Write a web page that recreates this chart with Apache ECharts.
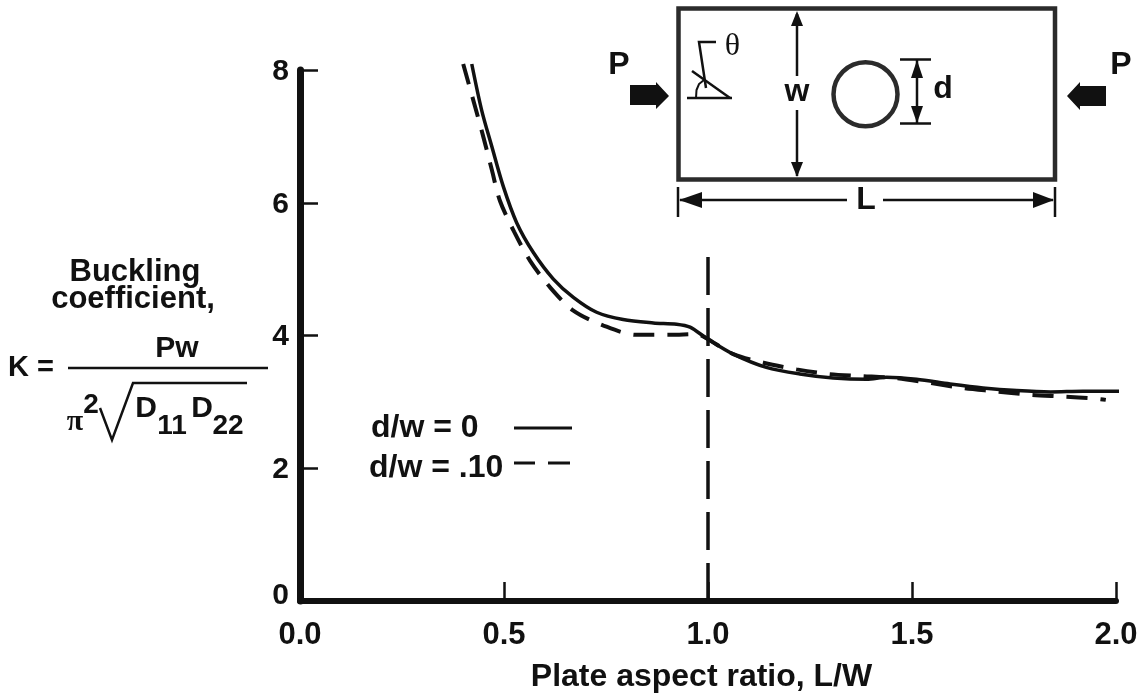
<!DOCTYPE html>
<html><head><meta charset="utf-8">
<style>html,body{margin:0;padding:0;background:#fff}#c{width:1146px;height:698px}</style>
<script src="https://cdn.jsdelivr.net/npm/echarts@6/dist/echarts.min.js"></script>
</head><body><div id="c"></div>
<script>
const xTicks = [0, 0.5, 1, 1.5, 2];
const yTicks = [0, 2, 4, 6, 8];
const solidX = [0.421,0.445,0.470,0.498,0.531,0.572,0.621,0.670,0.727,0.792,0.866,0.923,0.956,0.996,1.062,1.143,1.225,1.307,1.389,1.438,1.511,1.593,1.674,1.757,1.839,1.919,2.017];
const solidY = [8.09,7.40,6.85,6.25,5.70,5.25,4.85,4.575,4.35,4.24,4.19,4.17,4.125,3.96,3.72,3.52,3.42,3.36,3.34,3.37,3.34,3.27,3.21,3.17,3.15,3.16,3.16];
const dashX = [0.400,0.429,0.449,0.470,0.490,0.525,0.564,0.613,0.670,0.744,0.825,0.907,0.972,0.996,1.062,1.136,1.217,1.295,1.375,1.456,1.539,1.622,1.703,1.785,1.867,1.949,1.975];
const dashY = [8.09,7.45,7.0,6.5,6.03,5.56,5.125,4.725,4.375,4.15,4.01,4.01,4.02,3.96,3.72,3.59,3.49,3.42,3.39,3.36,3.29,3.21,3.16,3.11,3.08,3.05,3.03];
const refX = [1, 1];
const refY = [0, 5.2];
const zip = (a, b) => a.map((v, i) => [v, b[i]]);

const INK = '#111';
const EDGE = '#2b2b2b';
const SANS = '"Liberation Sans", Arial, sans-serif';
const SERIF = '"Liberation Serif", serif';
const t = (text, x, y, size, extra) => ({
  type: 'text', x, y, silent: true,
  style: Object.assign({text, fill: INK, font: `bold ${size}px ${SANS}`, align: 'center', verticalAlign: 'middle'}, extra || {})
});
const ln = (pts, w, color) => ({
  type: 'polyline', silent: true,
  shape: {points: pts},
  style: {stroke: color || INK, lineWidth: w, fill: null}
});
const poly = (pts, color) => ({
  type: 'polygon', silent: true, shape: {points: pts}, style: {fill: color || INK}
});
const arrowHead = (x, y, dx, dy, len, half) => poly([
  [x, y], [x + dx * len - dy * half, y + dy * len - dx * half], [x + dx * len + dy * half, y + dy * len + dx * half]
]);

const graphics = [
  // left-hand axis title with formula
  t('Buckling', 135, 272, 31),
  t('coefficient,', 133, 299, 31),
  t('K =', 31, 368, 29),
  t('Pw', 177, 349, 30),
  ln([[68, 368], [268, 368]], 2.5),
  t('π', 75, 422, 30, {font: `bold 30px ${SERIF}`}),
  t('2', 91, 405, 28),
  ln([[100, 408], [112, 440], [133, 383], [247, 383]], 2.5),
  t('D', 146, 409, 30),
  t('11', 172, 426, 28),
  t('D', 202, 409, 30),
  t('22', 228, 426, 28),
  // legend
  t('d/w = 0', 371, 428, 32, {align: 'left'}),
  ln([[514, 428], [572, 428]], 3),
  t('d/w = .10', 369, 468, 32, {align: 'left'}),
  ln([[514, 463], [535, 463]], 3),
  ln([[548, 463], [570, 463]], 3),
  // inset plate
  {type: 'rect', silent: true, shape: {x: 678.5, y: 8.5, width: 376.5, height: 171}, style: {fill: null, stroke: EDGE, lineWidth: 4.5}},
  {type: 'circle', silent: true, shape: {cx: 865.5, cy: 94.3, r: 32}, style: {fill: null, stroke: EDGE, lineWidth: 4.5}},
  t('P', 619, 65, 32),
  poly([[630, 85], [656, 85], [656, 82], [669, 96], [656, 109], [656, 105], [630, 105]]),
  t('P', 1121, 65, 32),
  poly([[1106, 86], [1080, 86], [1080, 82], [1067, 96], [1080, 110], [1080, 106], [1106, 106]]),
  // w dimension
  ln([[797, 14], [797, 76]], 2.5),
  ln([[797, 110], [797, 176]], 2.5),
  arrowHead(797, 11, 0, 1, 15, 6),
  arrowHead(797, 177, 0, -1, 15, 6),
  t('w', 797, 92, 32),
  // d dimension
  ln([[900, 59.5], [931, 59.5]], 2.5),
  ln([[900, 123.5], [931, 123.5]], 2.5),
  ln([[917, 60], [917, 123]], 2.5),
  arrowHead(917, 60, 0, 1, 18, 6),
  arrowHead(917, 123, 0, -1, 17, 6),
  t('d', 943, 89, 32),
  // L dimension
  ln([[678, 187], [678, 217]], 2.5),
  ln([[1055, 187], [1055, 217]], 2.5),
  ln([[680, 200], [847, 200]], 2.5),
  ln([[883, 200], [1053, 200]], 2.5),
  arrowHead(679, 200, 1, 0, 23, 8),
  arrowHead(1054, 200, -1, 0, 21, 8),
  t('L', 866, 200, 32),
  // angle sketch
  ln([[687, 98], [732, 98]], 2.5),
  ln([[692, 71], [730, 98]], 2.5),
  ln([[716, 42], [699, 42], [706, 88]], 2.5),
  ln([[696, 98], [696.5, 90], [699, 84], [704, 80]], 2),
  t('θ', 732.5, 47, 32, {font: `32px ${SERIF}`})
];

const chart = echarts.init(document.getElementById('c'));
chart.setOption({
  animation: false,
  backgroundColor: '#fff',
  grid: {left: 300, right: 30, top: 70, bottom: 96},
  xAxis: {
    type: 'value', min: 0, max: 2, interval: 0.5,
    name: 'Plate aspect ratio, L/W', nameLocation: 'middle', nameGap: 60,
    nameTextStyle: {color: INK, fontFamily: SANS, fontWeight: 'bold', fontSize: 32, padding: [0, 13, 0, 0]},
    axisLine: {lineStyle: {color: INK, width: 6}},
    axisTick: {inside: true, length: 19, lineStyle: {color: INK, width: 2.5}},
    axisLabel: {color: INK, fontFamily: SANS, fontWeight: 'bold', fontSize: 31, margin: 19,
      formatter: v => xTicks.includes(v) ? v.toFixed(1) : ''},
    splitLine: {show: false}
  },
  yAxis: {
    type: 'value', min: 0, max: 8, interval: 2,
    axisLine: {lineStyle: {color: INK, width: 7}},
    axisTick: {inside: true, length: 18, lineStyle: {color: INK, width: 2.5}},
    axisLabel: {color: INK, fontFamily: SANS, fontWeight: 'bold', fontSize: 30, margin: 11,
      formatter: v => yTicks.includes(v) ? (v === 0 ? `{z|${v}}` : `{n|${v}}`) : '',
      rich: {
        n: {color: INK, fontFamily: SANS, fontWeight: 'bold', fontSize: 30, padding: [3, 0, 0, 0]},
        z: {color: INK, fontFamily: SANS, fontWeight: 'bold', fontSize: 30, padding: [0, 0, 10, 0]}
      }},
    splitLine: {show: false}
  },
  series: [
    {name: 'd/w = 0', type: 'line', smooth: 0.3, clip: false, showSymbol: false, data: zip(solidX, solidY),
      lineStyle: {color: INK, width: 3.5}},
    {name: 'd/w = .10', type: 'line', smooth: 0.3, clip: false, showSymbol: false, data: zip(dashX, dashY),
      lineStyle: {color: INK, width: 4, type: [21, 13]}},
    {name: 'L/W = 1', type: 'line', showSymbol: false, data: zip(refX, refY),
      lineStyle: {color: INK, width: 3.5, type: [38, 13]}}
  ],
  graphic: graphics
});
</script></body></html>
